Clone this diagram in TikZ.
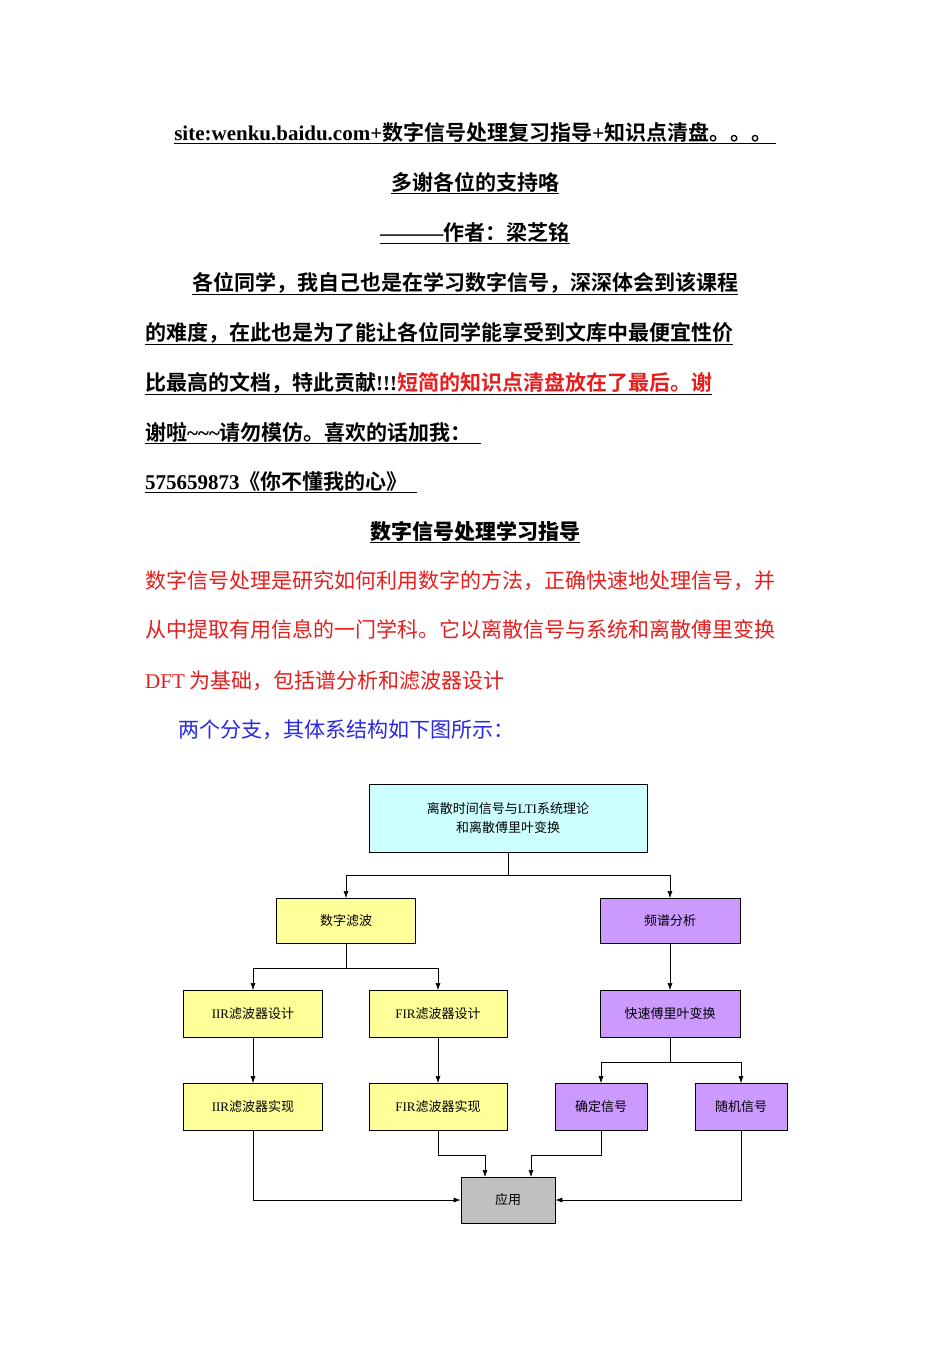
\documentclass[tikz,border=0pt]{standalone}
\usepackage{fontspec}
\setmainfont{Liberation Serif}
\newfontfamily\cjk{Noto Sans CJK SC}[BoldFont=* Bold]
\newcommand\lt[1]{{\rmfamily #1}}
\definecolor{myred}{RGB}{230,30,30}
\definecolor{myblue}{RGB}{40,40,230}
\definecolor{cyanbox}{RGB}{204,255,255}
\definecolor{yelbox}{RGB}{255,255,153}
\definecolor{purbox}{RGB}{204,153,255}
\definecolor{graybox}{RGB}{192,192,192}
\begin{document}
\begin{tikzpicture}[x=1pt,y=-1pt,
  line/.style={anchor=base west,inner sep=0pt,font=\cjk\fontsize{21}{21}\selectfont},
  bline/.style={line,font=\cjk\bfseries\fontsize{21}{21}\selectfont},
  box/.style={draw,thick,inner sep=0pt,font=\cjk\fontsize{13}{13}\selectfont,align=center},
  arr/.style={-{Latex[length=7pt,width=5pt]},semithick}]
\usetikzlibrary{arrows.meta}
\useasboundingbox (0,0) rectangle (950,1345);
\fill[white] (0,0) rectangle (950,1345);
% text
\node[bline,anchor=base] (l1) at (475,140) {\underline{\lt{\textbf{site:wenku.baidu.com+}}数字信号处理复习指导\lt{\textbf{+}}知识点清盘。。。\,}};
\node[bline,anchor=base] (l2) at (475,190) {\underline{多谢各位的支持咯}};
\node[bline,anchor=base] (l3) at (475,240) {\underline{\lt{\textbf{---------}}作者：梁芝铭}};
\node[bline] (l4) at (192,290) {\underline{各位同学，我自己也是在学习数字信号，深深体会到该课程}};
\node[bline] (l5) at (145,340) {\underline{的难度，在此也是为了能让各位同学能享受到文库中最便宜性价}};
\node[bline] (l6) at (145,390) {\underline{比最高的文档，特此贡献\lt{\textbf{!!!}}\textcolor{myred}{短简的知识点清盘放在了最后。谢}}};
\node[bline] (l7) at (145,440) {\underline{谢啦\lt{\textbf{\textasciitilde\textasciitilde\textasciitilde}}请勿模仿。喜欢的话加我：\ \ }};
\node[bline] (l8) at (145,489) {\underline{\lt{\textbf{575659873}}《你不懂我的心》\ \ }};
\node[bline,anchor=base] (l9) at (475,539) {\underline{\itshape 数字信号处理学习指导}};
\node[line,text=myred] (l10) at (145,588) {数字信号处理是研究如何利用数字的方法，正确快速地处理信号，并};
\node[line,text=myred] (l11) at (145,637) {从中提取有用信息的一门学科。它以离散信号与系统和离散傅里变换};
\node[line,text=myred] (l12) at (145,688) {\lt{DFT}\ 为基础，包括谱分析和滤波器设计};
\node[line,text=myblue] (l13) at (178,737) {两个分支，其体系结构如下图所示：};
% boxes
\node[box,fill=cyanbox,minimum width=278pt,minimum height=68pt] (top) at (508,818) {离散时间信号与\lt{LTI}系统理论\\[6pt]和离散傅里叶变换};
\node[box,fill=yelbox,minimum width=139pt,minimum height=45pt] (sz) at (346,921) {数字滤波};
\node[box,fill=purbox,minimum width=140pt,minimum height=45pt] (pp) at (670,921) {频谱分析};
\node[box,fill=yelbox,minimum width=139pt,minimum height=47pt] (iird) at (253,1014) {\lt{IIR}滤波器设计};
\node[box,fill=yelbox,minimum width=138pt,minimum height=47pt] (fird) at (438,1014) {\lt{FIR}滤波器设计};
\node[box,fill=purbox,minimum width=140pt,minimum height=47pt] (fft) at (670,1014) {快速傅里叶变换};
\node[box,fill=yelbox,minimum width=139pt,minimum height=47pt] (iiri) at (253,1107) {\lt{IIR}滤波器实现};
\node[box,fill=yelbox,minimum width=138pt,minimum height=47pt] (firi) at (438,1107) {\lt{FIR}滤波器实现};
\node[box,fill=purbox,minimum width=92pt,minimum height=47pt] (qd) at (601,1107) {确定信号};
\node[box,fill=purbox,minimum width=92pt,minimum height=47pt] (sj) at (741,1107) {随机信号};
\node[box,fill=graybox,minimum width=94pt,minimum height=46pt] (yy) at (508,1200) {应用};
% connectors
\coordinate (j1) at (508,875);
\draw[semithick] (top.south) -- (j1);
\draw[arr] (j1) -| (sz.north);
\draw[arr] (j1) -| (pp.north);
\coordinate (j2) at (346,968);
\draw[thick] (sz.south) -- (j2);
\draw[arr] (j2) -| (iird.north);
\draw[arr] (j2) -| (fird.north);
\draw[arr] (pp) -- (fft);
\draw[arr] (iird) -- (iiri);
\draw[arr] (fird) -- (firi);
\coordinate (j3) at (670,1062);
\draw[semithick] (fft.south) -- (j3);
\draw[arr] (j3) -| (qd.north);
\draw[arr] (j3) -| (sj.north);
\draw[arr] (iiri.south) |- (yy.west);
\draw[arr] (sj.south) |- (yy.east);
\draw[arr] (firi.south) |- (485,1155) -- (485,1177);
\draw[arr] (qd.south) |- (531,1155) -- (531,1177);
\end{tikzpicture}
\end{document}
